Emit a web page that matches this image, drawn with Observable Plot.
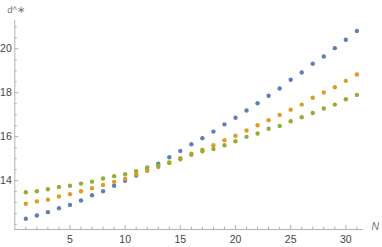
<!DOCTYPE html>
<html><head><meta charset="utf-8">
<script src="https://cdn.jsdelivr.net/npm/d3@7"></script>
<script src="https://cdn.jsdelivr.net/npm/@observablehq/plot@0.6"></script>
<style>html,body{margin:0;padding:0;background:#fff} svg{display:block}</style>
</head><body><div id="chart"></div>
<script>
const N = [1,2,3,4,5,6,7,8,9,10,11,12,13,14,15,16,17,18,19,20,21,22,23,24,25,26,27,28,29,30,31];
const blueVals = [12.26,12.41,12.56,12.74,12.89,13.09,13.33,13.51,13.76,13.99,14.23,14.49,14.77,15.06,15.35,15.65,15.93,16.23,16.56,16.86,17.19,17.52,17.86,18.19,18.59,18.92,19.32,19.65,20.03,20.41,20.81];
const orangeVals = [12.94,13.05,13.13,13.27,13.38,13.51,13.65,13.80,13.94,14.08,14.29,14.44,14.62,14.80,15.02,15.22,15.41,15.61,15.84,16.04,16.28,16.52,16.75,16.99,17.23,17.46,17.77,18.01,18.25,18.54,18.83];
const greenVals = [13.47,13.51,13.60,13.71,13.76,13.86,13.95,14.09,14.20,14.29,14.43,14.60,14.68,14.82,14.97,15.17,15.33,15.44,15.61,15.79,15.99,16.14,16.36,16.49,16.70,16.88,17.08,17.28,17.46,17.70,17.90];
const xMajor = [5,10,15,20,25,30];
const xMinor = N.filter(n => !xMajor.includes(n));
const yMajor = [14,16,18,20];
const yMinor = [12,12.5,13,13.5,14.5,15,15.5,16.5,17,17.5,18.5,19,19.5,20.5,21];
const xDomain = [0, 31.6];
const yDomain = [11.77, 21.29];
const yLabel = "d^∗";
const xLabel = "N";

const W = 382, H = 247;
const mL = 14.3, mR = 19, mT = 20, mB = 18;
const fw = W - mL - mR, fh = H - mT - mB;
const axisColor = "#b3b3b3";
const textColor = "#444";
const colors = ["#5E81B5", "#E19C24", "#8FB032"];
const series = [blueVals, orangeVals, greenVals];

const marks = [
  Plot.ruleX([xDomain[0]], {stroke: axisColor, strokeWidth: 1}),
  Plot.ruleY([yDomain[0]], {stroke: axisColor, strokeWidth: 1}),
  Plot.ruleY(yMajor, {y: d => d, insetRight: fw - 4, stroke: axisColor}),
  Plot.ruleY(yMinor, {y: d => d, insetRight: fw - 2.5, stroke: axisColor}),
  Plot.ruleX(xMajor, {x: d => d, insetTop: fh - 4, stroke: axisColor}),
  Plot.ruleX(xMinor, {x: d => d, insetTop: fh - 2.5, stroke: axisColor}),
  Plot.text(yMajor, {x: xDomain[0], y: d => d, text: d => String(d), textAnchor: "end", dx: -3, fill: textColor}),
  Plot.text(xMajor, {x: d => d, y: yDomain[0], text: d => String(d), dy: 10, fill: textColor}),
  Plot.text([yLabel], {frameAnchor: "top-left", text: d => d, textAnchor: "start", dx: -7.5, dy: -14, fill: "#777", fontSize: 9.5}),
  Plot.text([xLabel], {frameAnchor: "bottom-right", text: d => d, textAnchor: "start", dx: 8, dy: 0, fill: "#777", fontStyle: "italic", fontSize: 10.5}),
  ...series.map((vals, i) => Plot.dot(N.map((n, j) => ({n, v: vals[j]})), {x: "n", y: "v", r: 2.2, fill: colors[i], stroke: "none"}))
];

const chart = Plot.plot({
  width: W, height: H,
  marginLeft: mL, marginRight: mR, marginTop: mT, marginBottom: mB,
  x: {domain: xDomain, axis: null},
  y: {domain: yDomain, axis: null},
  style: {fontFamily: "Liberation Sans, Arial, sans-serif", fontSize: "10.5px", background: "#fff"},
  marks
});
document.getElementById("chart").appendChild(chart);
</script>
</body></html>
